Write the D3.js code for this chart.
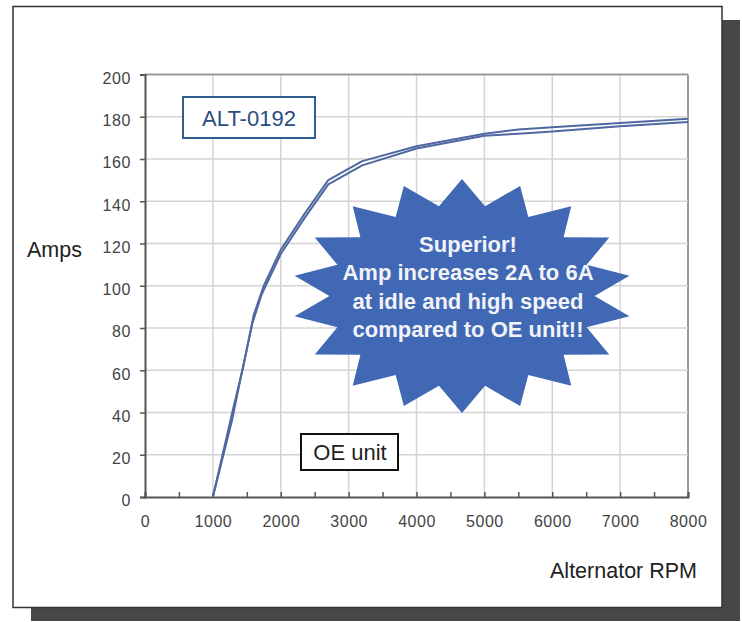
<!DOCTYPE html>
<html><head><meta charset="utf-8">
<script src="https://cdn.jsdelivr.net/npm/d3@7"></script>
<style>body{margin:0;background:#fff}svg{display:block}text{font-family:"Liberation Sans",Arial,sans-serif}</style>
</head><body>
<script>
// ---- data ----
const xTicks = [0,1000,2000,3000,4000,5000,6000,7000,8000];
const yTicks = [0,20,40,60,80,100,120,140,160,180,200];
const altRpm  = [1000,1300,1450,1600,1750,2000,2350,2700,3200,4000,5000,5500,6000,7000,8000];
const altAmps = [0,42,62,86,100,117,134,150,159,166,172,174,175,177,179];
const oeRpm   = [1000,1280,1420,1580,1720,2000,2350,2700,3200,4000,5000,5500,6000,7000,8000];
const oeAmps  = [0,36,58,82,96,115,132,148,157,165,171,172,173,175.5,177.5];
const seriesNames = ["ALT-0192","OE unit"];
const calloutLines = ["Superior!","Amp increases 2A to 6A","at idle and high speed","compared to OE unit!!"];

const W=742,H=622;
const svg=d3.select("body").append("svg").attr("width",W).attr("height",H);

// frame + shadow
svg.append("rect").attr("x",31).attr("y",20).attr("width",709).attr("height",601).attr("fill","#474747");
svg.append("rect").attr("x",13).attr("y",6.5).attr("width",709).attr("height",601).attr("fill","#fff").attr("stroke","#333").attr("stroke-width",1.5);

const x=d3.scaleLinear().domain([0,8000]).range([145,688]);
const y=d3.scaleLinear().domain([0,200]).range([497,74.5]);

// gridlines
const g=svg.append("g");
g.selectAll("line.v").data(xTicks.slice(1)).join("line")
  .attr("x1",d=>x(d)).attr("x2",d=>x(d)).attr("y1",y(0)).attr("y2",y(200))
  .attr("stroke",d=>d===8000?"#9a9a9a":"#d4d4d4").attr("stroke-width",d=>d===8000?2:1.5);
g.selectAll("line.h").data(yTicks.slice(1)).join("line")
  .attr("x1",x(0)).attr("x2",x(8000)).attr("y1",d=>y(d)).attr("y2",d=>y(d))
  .attr("stroke",d=>d===200?"#9a9a9a":"#d4d4d4").attr("stroke-width",d=>d===200?2:1.5);

// axes
const yAxis=d3.axisLeft(y).tickValues(yTicks).tickSize(5).tickFormat(d3.format("d"));
const ya=svg.append("g").attr("transform",`translate(${x(0)},0)`).call(yAxis);
ya.select(".domain").attr("stroke","#555").attr("stroke-width",2);
ya.selectAll(".tick line").attr("stroke","#555").attr("stroke-width",1.5);
ya.selectAll(".tick text").attr("x",-14).attr("dy","0.55em").attr("font-size",16).attr("fill","#444").attr("letter-spacing",0.6).attr("font-family","Liberation Sans, Arial");

const xAxis=d3.axisBottom(x).tickValues(d3.range(0,8001,500)).tickSize(-5).tickFormat(d=>d%1000===0?d:"");
const xa=svg.append("g").attr("transform",`translate(0,${y(0)})`).call(xAxis);
xa.select(".domain").attr("stroke","#555").attr("stroke-width",2);
xa.selectAll(".tick line").attr("stroke","#555").attr("stroke-width",1.5);
xa.selectAll(".tick text").attr("y",30).attr("dy",0).attr("font-size",16).attr("fill","#444").attr("letter-spacing",0.5).attr("font-family","Liberation Sans, Arial");

// axis titles
svg.append("text").attr("x",27).attr("y",257).attr("font-size",21.5).attr("fill","#222").text("Amps");
svg.append("text").attr("x",697).attr("y",578).attr("text-anchor","end").attr("font-size",21.5).attr("fill","#222").text("Alternator RPM");

// starburst callout (decoration)
const cx=462,cy=296,rx=170,ry=117,nPts=18,inner=0.78;
const starPts=[];
for(let i=0;i<nPts*2;i++){
  const a=-Math.PI/2+i*Math.PI/nPts;
  const r=i%2===0?1:inner;
  starPts.push([cx+rx*r*Math.cos(a),cy+ry*r*Math.sin(a)]);
}
svg.append("path").attr("d",d3.line()(starPts)+"Z").attr("fill","#4068b4");
svg.append("text").attr("x",468).attr("y",252).attr("text-anchor","middle").attr("font-size",22).attr("font-weight","bold").attr("fill","#f2f3f8")
  .selectAll("tspan").data(calloutLines).join("tspan").attr("x",468).attr("dy",(d,i)=>i?28.3:0).text(d=>d);

// lines
const line=d3.line().x(d=>x(d[0])).y(d=>y(d[1]));
const altData=altRpm.map((r,i)=>[r,altAmps[i]]);
const oeData=oeRpm.map((r,i)=>[r,oeAmps[i]]);
[altData,oeData].forEach(dat=>{
  svg.append("path").datum(dat).attr("d",line).attr("fill","none").attr("stroke","#5068a2").attr("stroke-width",2).attr("stroke-linejoin","round");
});

// labels
svg.append("rect").attr("x",183).attr("y",97).attr("width",132).attr("height",41).attr("fill","#fff").attr("stroke","#2f5f8f").attr("stroke-width",2);
svg.append("text").attr("x",249).attr("y",126).attr("text-anchor","middle").attr("font-size",22).attr("fill","#2b4c7e").text(seriesNames[0]);
svg.append("rect").attr("x",301).attr("y",434).attr("width",97).attr("height",36).attr("fill","#fff").attr("stroke","#111").attr("stroke-width",2);
svg.append("text").attr("x",350).attr("y",460).attr("text-anchor","middle").attr("font-size",22).attr("fill","#222").text(seriesNames[1]);
</script>
</body></html>
